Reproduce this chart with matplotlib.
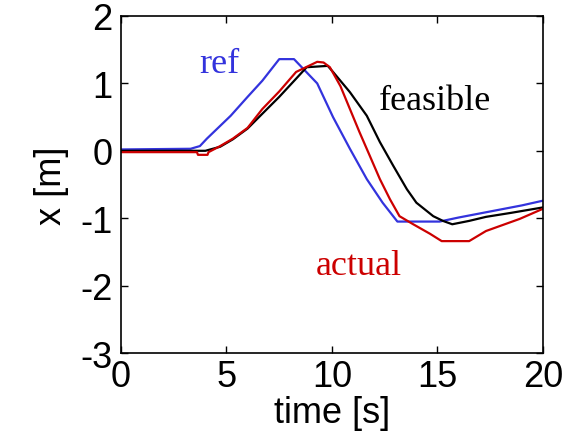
import matplotlib
matplotlib.use("Agg")
import matplotlib.pyplot as plt

# reference trajectory
t_ref = [0, 3.3, 3.74, 4.07, 5.2, 6.0, 6.7, 7.5, 8.2, 9.3, 10.05, 10.85, 11.65, 12.4, 13.1,
         15.1, 16, 17, 18, 19, 20]
x_ref = [0.02, 0.03, 0.07, 0.18, 0.52, 0.8, 1.04, 1.36, 1.36, 1.0, 0.5, 0.03, -0.42, -0.77, -1.05,
         -1.05, -0.99, -0.93, -0.87, -0.81, -0.74]

# feasible trajectory
t_feas = [0, 4.0, 4.7, 5.3, 6.0, 6.7, 7.5, 8.3, 8.8, 9.8, 10.05, 10.85, 11.65, 12.27, 12.9,
          13.55, 14.0, 14.8, 15.26, 15.7, 16.5, 17.3, 18.5, 20]
x_feas = [0, 0, 0.06, 0.17, 0.33, 0.55, 0.8, 1.07, 1.24, 1.26, 1.17, 0.87, 0.52, 0.13, -0.22,
          -0.57, -0.77, -0.97, -1.04, -1.09, -1.04, -0.98, -0.92, -0.84]

# actual trajectory
t_act = [0, 3.6, 3.65, 4.1, 4.15, 4.7, 5.3, 6.0, 6.7, 7.5, 8.3, 9.1, 9.3, 9.6, 9.9, 10.4,
         10.85, 11.3, 11.8, 12.27, 12.75, 13.2, 13.85, 14.64, 15.2, 16.5, 17.3, 18.9, 20]
x_act = [-0.02, -0.02, -0.06, -0.06, -0.02, 0.07, 0.18, 0.34, 0.62, 0.88, 1.17, 1.29, 1.32, 1.31,
         1.24, 0.96, 0.62, 0.28, -0.08, -0.42, -0.72, -0.97, -1.09, -1.23, -1.34, -1.34, -1.19,
         -1.01, -0.86]

blue = "#3333dd"
red = "#cc0000"

plt.rcParams['font.family'] = ['Liberation Sans', 'DejaVu Sans']
plt.rcParams['axes.unicode_minus'] = False

fig = plt.figure(figsize=(5.87, 4.39), dpi=100)
ax = fig.add_axes([0.2061, 0.1936, 0.7189, 0.7677])

ax.plot(t_ref, x_ref, color=blue, lw=1.6)
ax.plot(t_feas, x_feas, color="black", lw=1.6)
ax.plot(t_act, x_act, color=red, lw=1.6)

serif = ['Liberation Serif', 'DejaVu Serif']
ax.text(4.64, 1.17, "ref", color=blue, fontsize=26, family=serif, ha="center", va="baseline")
ax.text(14.88, 0.62, "feasible", color="black", fontsize=26, family=serif, ha="center", va="baseline")
ax.text(11.25, -1.83, "actual", color=red, fontsize=26, family=serif, ha="center", va="baseline")

ax.set_xlim(0, 20)
ax.set_ylim(-3, 2)
ax.set_xticks([0, 5, 10, 15, 20])
ax.set_yticks([-3, -2, -1, 0, 1, 2])
ax.tick_params(direction="in", length=5, width=1, labelsize=26, top=True, right=True, pad=4)
ax.tick_params(axis="y", pad=6)
for s in ax.spines.values():
    s.set_linewidth(1.2)
ax.set_xlabel("time [s]", fontsize=26, labelpad=1)
ax.set_ylabel("x [m]", fontsize=26, labelpad=8)

fig.savefig("out.png", dpi=100)
